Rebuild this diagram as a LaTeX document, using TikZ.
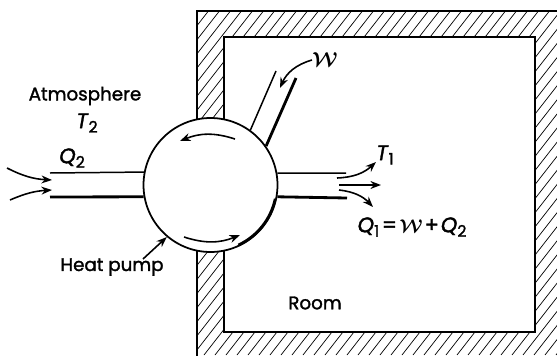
\documentclass[tikz,border=0pt]{standalone}
\usepackage{fontspec}
\setmainfont{Poppins}[RawFeature={embolden=1.6}]
\usetikzlibrary{arrows.meta}

\tikzset{
  lbl/.style={inner sep=0pt,font=\fontsize{10.4}{13}\selectfont},
  thinline/.style={line width=0.85pt},
  thickline/.style={line width=1.6pt},
  hatchline/.style={line width=0.4pt},
  flow/.style={line width=0.9pt,-{Stealth[length=6pt,width=4.5pt]}},
}
\newcommand{\itsub}[2]{{\fontsize{12}{15}\selectfont\textit{#1}\raisebox{-2.5pt}{\fontsize{9}{11}\selectfont #2}}}
\newcommand{\wsym}{{\boldmath$\mathcal{W}$}}

\begin{document}
\begin{tikzpicture}[x=0.02cm,y=-0.02cm]
  \clip (0,0) rectangle (557,355);
  % walls
  \begin{scope}
    \clip (197,11) rectangle (620,420);
    \foreach \h in {195,206,...,870}
      \draw[hatchline] (\h,0) -- ++(-277,355);
  \end{scope}
  \draw[line width=1pt] (197,11) rectangle (620,420);
  \draw[line width=1.4pt,fill=white] (224,37) rectangle (535,332);
  % pump
  \node[circle,draw,fill=white,line width=1pt,inner sep=0pt,minimum size=2.68cm] (pump) at (210.5,185) {};
  \draw[thickline] (pump.center) ++(65:66.2) arc[start angle=65,end angle=12,radius=66.2];
  % labels
  \node[lbl] (atm) at (85,96) {Atmosphere};
  \node[lbl] (ttwo) at (87,123) {\itsub{T}{2}};
  \node[lbl] (qtwo) at (72,158) {\itsub{Q}{2}};
  \node[lbl] (hp) at (112,267) {Heat pump};
  \node[lbl] (room) at (315,303) {Room};
  \node[lbl] (tone) at (385,155) {\itsub{T}{1}};
  \node[lbl,scale=1.15] (work) at (325,60) {\wsym};
  \node[lbl] (qone) at (412,227) {\itsub{Q}{1}\kern1.5pt{\fontsize{12}{15}\selectfont =}\kern1.5pt\scalebox{1.05}{\wsym}\kern1pt{\fontsize{12}{15}\selectfont +}\kern1pt\itsub{Q}{2}};
  % free ends
  \coordinate (ductl1) at (50,173);
  \coordinate (ductl2) at (50,197);
  \coordinate (ductr1) at (346,173);
  \coordinate (ductr2) at (347,198);
  \coordinate (worka) at (276,71);
  \coordinate (workb) at (296,78);
  \coordinate (worktip) at (280,88);
  \coordinate (inaa) at (7,168);
  \coordinate (inab) at (52,180);
  \coordinate (inba) at (10,200);
  \coordinate (inbb) at (52,190);
  \coordinate (outaa) at (337,178);
  \coordinate (outab) at (376,162);
  \coordinate (outba) at (339,185);
  \coordinate (outbb) at (381,185);
  \coordinate (outca) at (339,190);
  \coordinate (outcb) at (373,207);
  \coordinate (hpa) at (143,259);
  \coordinate (rota) at (235,139);
  \coordinate (rotb) at (180,141);
  \coordinate (rotc) at (184,237);
  \coordinate (rotd) at (240,235);
  % ducts
  \draw[thinline] (ductl1) -- (pump.169.7);
  \draw[thickline] (ductl2) -- (pump.190.3);
  \draw[thinline] (ductr1) -- (pump.10.3);
  \draw[thickline] (ductr2) -- (pump.-10.3);
  \draw[thinline] (pump.54) -- (worka);
  \draw[thickline] (pump.35) -- (workb);
  % arrows
  \draw[flow] (inaa) to[bend right=12] (inab);
  \draw[flow] (inba) to[bend left=10] (inbb);
  \draw[flow] (outaa) to[bend right=20] (outab);
  \draw[flow] (outba) -- (outbb);
  \draw[flow] (outca) to[bend left=20] (outcb);
  \draw[flow] (work.west) to[bend right=25] (worktip);
  \draw[flow] (hpa) -- (pump.230);
  \draw[flow] (rota) to[bend right=20] (rotb);
  \draw[flow] (rotc) to[bend right=20] (rotd);
\end{tikzpicture}
\end{document}
